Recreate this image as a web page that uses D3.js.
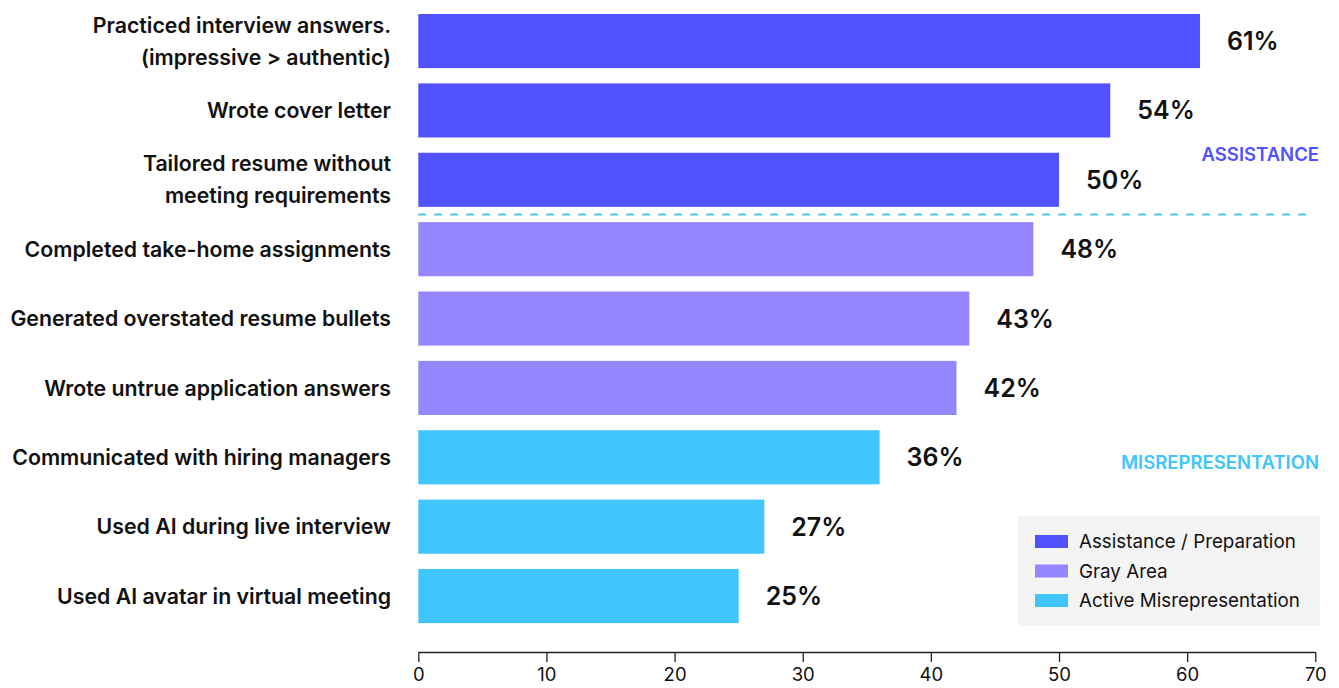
<!DOCTYPE html>
<html>
<head>
<meta charset="utf-8">
<script src="https://cdn.jsdelivr.net/npm/d3@7"></script>
<style>
  html, body { margin: 0; padding: 0; background: #ffffff; }
  svg { display: block; font-family: Inter, "Noto Sans", sans-serif; }
</style>
</head>
<body>
<svg id="chart" width="1339" height="688"></svg>
<script>
// Survey results: share of respondents who used AI for each job-search activity
const categories = [
  ["Practiced interview answers.", "(impressive > authentic)"],
  ["Wrote cover letter"],
  ["Tailored resume without", "meeting requirements"],
  ["Completed take-home assignments"],
  ["Generated overstated resume bullets"],
  ["Wrote untrue application answers"],
  ["Communicated with hiring managers"],
  ["Used AI during live interview"],
  ["Used AI avatar in virtual meeting"]
];
const values = [61, 54, 50, 48, 43, 42, 36, 27, 25];
const groups = ["assist", "assist", "assist", "gray", "gray", "gray", "active", "active", "active"];

const groupNames = ["assist", "gray", "active"];
const groupLabels = ["Assistance / Preparation", "Gray Area", "Active Misrepresentation"];
const groupColors = ["#4f52fe", "#9686fe", "#40c5fc"];
const xTicks = [0, 10, 20, 30, 40, 50, 60, 70];

const svg = d3.select("#chart");
const color = d3.scaleOrdinal().domain(groupNames).range(groupColors);

const ids = categories.map((_, i) => i);
const x = d3.scaleLinear().domain([0, 70]).range([418.3, 1315.3]);
const y = d3.scaleBand().domain(ids).range([6.37, 630.74]).paddingInner(0.22).paddingOuter(0.11);
const bw = y.bandwidth();

// Bars
svg.append("g").selectAll("rect")
  .data(ids)
  .join("rect")
  .attr("x", x(0))
  .attr("y", i => y(i))
  .attr("width", i => x(values[i]) - x(0))
  .attr("height", bw)
  .attr("fill", i => color(groups[i]));

// Value labels
svg.append("g").selectAll("text")
  .data(ids)
  .join("text")
  .attr("x", i => x(values[i]) + 27)
  .attr("y", i => y(i) + bw / 2)
  .attr("dy", "0.36em")
  .attr("font-size", 25)
  .attr("font-weight", 600)
  .attr("fill", "#111")
  .text(i => values[i] + "%");

// Category labels (right aligned, wrapped where needed)
const catG = svg.append("g").selectAll("text")
  .data(ids)
  .join("text")
  .attr("text-anchor", "end")
  .attr("font-size", 21.3)
  .attr("font-weight", 600)
  .attr("fill", "#111");
catG.each(function (i) {
  const lines = categories[i];
  const lh = 32;
  const cy = y(i) + bw / 2;
  const t = d3.select(this);
  lines.forEach((ln, k) => {
    t.append("tspan")
      .attr("x", 391)
      .attr("y", cy + (k - (lines.length - 1) / 2) * lh)
      .attr("dy", "0.36em")
      .text(ln);
  });
});

// Divider between preparation and gray-area activities
const divY = (y(2) + bw + y(3)) / 2;
svg.append("line")
  .attr("x1", x(0)).attr("x2", 1313)
  .attr("y1", divY).attr("y2", divY)
  .attr("stroke", "#40c5fc")
  .attr("stroke-width", 2)
  .attr("stroke-dasharray", "7.5,8.5");

// Section captions
svg.append("text")
  .attr("x", 1319).attr("y", y(2) + bw / 2 - 25)
  .attr("dy", "0.36em")
  .attr("text-anchor", "end")
  .attr("font-size", 18.5).attr("font-weight", 600)
  .attr("fill", color("assist"))
  .text("ASSISTANCE");
svg.append("text")
  .attr("x", 1319).attr("y", y(6) + bw / 2 + 5)
  .attr("dy", "0.36em")
  .attr("text-anchor", "end")
  .attr("font-size", 18.5).attr("font-weight", 600)
  .attr("fill", color("active"))
  .text("MISREPRESENTATION");

// X axis
const axis = svg.append("g")
  .attr("transform", "translate(0,652)")
  .call(d3.axisBottom(x).tickValues(xTicks).tickSize(10).tickSizeOuter(0).tickPadding(6));
axis.select(".domain").attr("stroke", "#222").attr("stroke-width", 1.3);
axis.selectAll(".tick line").attr("stroke", "#222").attr("stroke-width", 1.3);
axis.selectAll(".tick text")
  .attr("font-family", "Inter, sans-serif")
  .attr("font-size", 18.5)
  .attr("fill", "#111");

// Legend
const legend = svg.append("g");
legend.append("rect")
  .attr("x", 1018).attr("y", 516)
  .attr("width", 302).attr("height", 110)
  .attr("fill", "#f4f4f4");
const rows = legend.selectAll("g.row")
  .data(groupNames)
  .join("g")
  .attr("class", "row")
  .attr("transform", (d, k) => `translate(0,${541.5 + k * 29.5})`);
rows.append("rect")
  .attr("x", 1035).attr("y", -6.5)
  .attr("width", 33).attr("height", 13)
  .attr("fill", d => color(d));
rows.append("text")
  .attr("x", 1079).attr("y", 0)
  .attr("dy", "0.36em")
  .attr("font-size", 18.8)
  .attr("fill", "#111")
  .text((d, k) => groupLabels[k]);
</script>
</body>
</html>
